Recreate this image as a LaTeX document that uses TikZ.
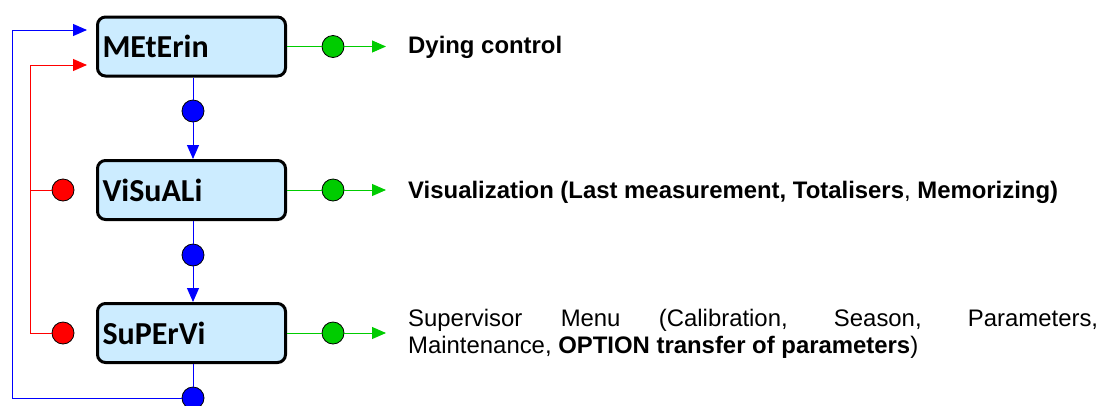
\documentclass[tikz,border=0pt]{standalone}
\usepackage{fontspec}
\setmainfont{Liberation Sans}
\newfontfamily\boxfont{Carlito}
\usepackage{tikz}
\usetikzlibrary{arrows.meta}

\definecolor{boxblue}{RGB}{204,236,255}
\definecolor{dotgreen}{RGB}{0,204,0}
\hyphenpenalty=10000
\tolerance=9999

\begin{document}
\begin{tikzpicture}[x=1pt, y=-1pt,
  menu/.style = {draw, line width=3pt, rounded corners=8pt, fill=boxblue,
    minimum width=188pt, minimum height=59pt, text width=178pt, inner xsep=5pt,
    align=left, font=\boxfont\bfseries\fontsize{32}{36}\selectfont},
  dot/.style = {circle, draw, line width=0.8pt, minimum size=22pt, inner sep=0pt},
  wire/.style = {line width=1pt},
  tip/.style = {-{Triangle[length=14pt,width=12pt]}},
  desc/.style = {anchor=base west, inner sep=0pt, font=\fontsize{23.9}{27}\selectfont}]

\useasboundingbox (0,0) rectangle (1102,405);

% menu boxes
\node[menu] (n1) at (191.5,46.5) {MEtErin};
\node[menu] (n2) at (191.5,190) {ViSuALi};
\node[menu] (n3) at (191.5,333) {SuPErVi};

% dots
\node[dot, fill=dotgreen] (n1g) at (333,46.5) {};
\node[dot, fill=dotgreen] (n2g) at (333,190) {};
\node[dot, fill=dotgreen] (n3g) at (333,333) {};
\node[dot, fill=blue] (n1b) at (193,111) {};
\node[dot, fill=blue] (n2b) at (193,255) {};
\node[dot, fill=blue] (n3b) at (193,398) {};
\node[dot, fill=red] (n2r) at (63,190) {};
\node[dot, fill=red] (n3r) at (63,333) {};

\coordinate (n1e) at (386,46.5);
\coordinate (n2e) at (386,190);
\coordinate (n3e) at (386,333);
\coordinate (bc) at (12,398);
\coordinate (be) at (87,30);
\coordinate (rj) at (30,190);
\coordinate (rc) at (30,333);
\coordinate (re) at (87,65);

% descriptions
\node[desc] (n1t) at (408,53) {\textbf{Dying control}};
\node[desc] (n2t) at (408,198) {\textbf{Visualization (Last measurement, Totalisers}, \textbf{Memorizing)}};
\node[desc, text width=690pt, align=justify, anchor=west] (n3t) at (408,334)
  {Supervisor Menu (Calibration, Season, Parameters,\linebreak Maintenance, \textbf{OPTION transfer of parameters})};

% green outputs
\draw[wire, dotgreen] (n1) -- (n1g);
\draw[wire, dotgreen, tip] (n1g) -- (n1e);
\draw[wire, dotgreen] (n2) -- (n2g);
\draw[wire, dotgreen, tip] (n2g) -- (n2e);
\draw[wire, dotgreen] (n3) -- (n3g);
\draw[wire, dotgreen, tip] (n3g) -- (n3e);

% blue chain
\draw[wire, blue] (n1b |- n1.south) -- (n1b);
\draw[wire, blue, tip] (n1b) -- (n1b |- n2.north);
\draw[wire, blue] (n2b |- n2.south) -- (n2b);
\draw[wire, blue, tip] (n2b) -- (n2b |- n3.north);
\draw[wire, blue] (n3b |- n3.south) -- (n3b);
\draw[wire, blue, tip] (n3b) -- (bc) |- (be);

% red returns
\draw[wire, red] (n2r) -- (rj);
\draw[wire, red, tip] (n3r) -- (rc) |- (re);

\end{tikzpicture}
\end{document}
